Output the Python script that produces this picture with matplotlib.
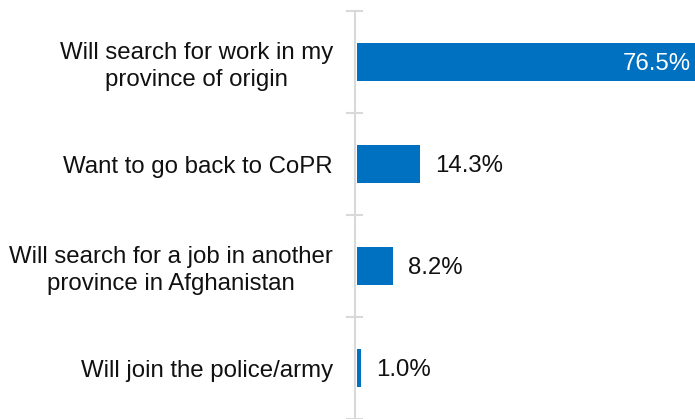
import matplotlib.pyplot as plt

plt.rcParams["font.family"] = ["Liberation Sans", "DejaVu Sans"]

categories = [
    "Will search for work in my\nprovince of origin",
    "Want to go back to CoPR",
    "Will search for a job in another\nprovince in Afghanistan",
    "Will join the police/army",
]
values = [76.5, 14.3, 8.2, 1.0]
labels = ["76.5%", "14.3%", "8.2%", "1.0%"]

fs = 17.3

fig = plt.figure(figsize=(6.95, 4.19), dpi=100)
ax = fig.add_axes([355 / 695, 0, 1 - 355 / 695, 408 / 419])

pos = list(range(len(categories)))
ax.barh(pos, values, height=0.37, color="#0070C0", left=0.4)
ax.set_ylim(len(categories) - 0.5, -0.5)
ax.set_xlim(0, 77)

for s in ["top", "right", "bottom"]:
    ax.spines[s].set_visible(False)
ax.spines["left"].set_color("#d9d9d9")
ax.spines["left"].set_linewidth(1.5)
ax.set_xticks([])

ax.set_yticks(pos)
ax.set_yticklabels(categories, fontsize=fs, color="#111111")
ax.tick_params(axis="y", length=0, pad=15.8)
for t in ax.get_yticklabels():
    t.set_multialignment("center")
    t.set_linespacing(1.25)

# tick marks between categories
for b in [-0.5, 0.5, 1.5, 2.5, 3.5]:
    ax.plot([-1.8, 1.6], [b, b], color="#d9d9d9", lw=1.5, clip_on=False)

for i, (v, lab) in enumerate(zip(values, labels)):
    if i == 0:
        ax.text(v + 0.4 - 0.8, i + 0.02, lab, ha="right", va="center", color="white", fontsize=fs)
    else:
        ax.annotate(lab, (v + 0.4, i + 0.02), xytext=(15, 0), textcoords="offset pixels",
                    ha="left", va="center", fontsize=fs, color="#111111")

fig.savefig("out.png", dpi=100)
